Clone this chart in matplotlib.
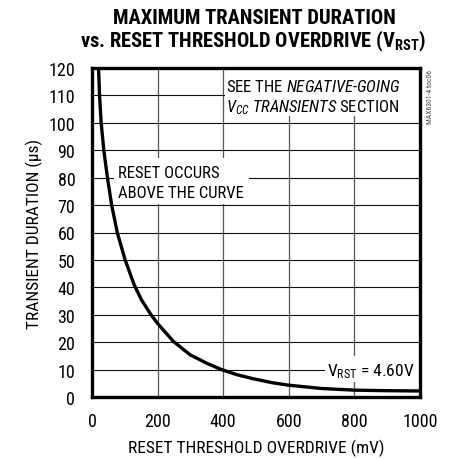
import matplotlib
matplotlib.use('Agg')
import matplotlib.pyplot as plt

# curve
overdrive_mv = [20, 23, 28, 36, 47, 60, 77, 101, 129, 151, 180, 200, 248, 299,
                350, 395, 440, 490, 550, 600, 700, 800, 900, 1000]
duration_us = [120, 110, 100, 90, 80, 70, 60, 50, 40.8, 35.4, 30, 26.8, 20.3, 15.4,
               12.3, 10, 8.2, 6.7, 5.2, 4.3, 3.1, 2.5, 2.3, 2.2]

x_ticks = [0, 200, 400, 600, 800, 1000]
y_ticks = list(range(0, 121, 10))

narrow = ['Roboto Condensed', 'Roboto', 'DejaVu Sans']
plt.rcParams['font.family'] = narrow
plt.rcParams['mathtext.fontset'] = 'custom'
plt.rcParams['mathtext.rm'] = 'Roboto Condensed'
plt.rcParams['mathtext.it'] = 'Roboto Condensed:italic'
plt.rcParams['mathtext.bf'] = 'Roboto Condensed:bold'

fig = plt.figure(figsize=(4.5, 4.6), dpi=100)
ax = fig.add_axes([92 / 450, 62 / 460, 328 / 450, 329 / 460])

ax.set_xlim(0, 1000)
ax.set_ylim(0, 120)
ax.set_xticks(x_ticks)
ax.set_yticks(y_ticks)
ax.tick_params(length=0, labelsize=13)
ax.tick_params(axis='y', pad=12)
ax.tick_params(axis='x', pad=11)

# grid: vertical grey, horizontal black
for xv in x_ticks[1:-1]:
    ax.axvline(xv, color='#555555', lw=0.9, zorder=1)
for yv in y_ticks[1:-1]:
    ax.axhline(yv, color='#111111', lw=0.8, zorder=1)

ax.plot(overdrive_mv, duration_us, color='black', lw=2.4, zorder=3,
        solid_capstyle='butt', solid_joinstyle='round')

for s in ax.spines.values():
    s.set_linewidth(2.4)
    s.set_zorder(5)

ax.set_xlabel('RESET THRESHOLD OVERDRIVE (mV)', fontsize=12.5, labelpad=6)
ax.set_ylabel('TRANSIENT DURATION (\u00b5s)', fontsize=12.5, labelpad=4)

fig.text(0.566, 0.96, 'MAXIMUM TRANSIENT DURATION', ha='center', va='center',
         fontsize=14.8, fontweight='black')
fig.text(0.563, 0.909, r'vs. RESET THRESHOLD OVERDRIVE (V$_{\mathbf{RST}}$)',
         ha='center', va='center', fontsize=14.8, fontweight='black')

# top-right note
ax.add_patch(plt.Rectangle((405, 102.5), 595, 17.5, facecolor='white',
                           edgecolor='none', zorder=2))
ax.text(408, 113.5, r'SEE THE $\mathit{NEGATIVE}$-$\mathit{GOING}$', fontsize=12,
        ha='left', va='center', zorder=4)
ax.text(408, 106, r'$\mathit{V_{CC}}$ $\mathit{TRANSIENTS}$ SECTION', fontsize=12,
        ha='left', va='center', zorder=4)

# region note
ax.add_patch(plt.Rectangle((68, 70.5), 410, 16.5, facecolor='white',
                           edgecolor='none', zorder=2))
ax.text(80, 82, 'RESET OCCURS', fontsize=12, ha='left', va='center', zorder=4)
ax.text(80, 74.5, 'ABOVE THE CURVE', fontsize=12, ha='left', va='center', zorder=4)

# V_RST label
ax.add_patch(plt.Rectangle((710, 5.5), 290, 9.5, facecolor='white',
                           edgecolor='none', zorder=2))
ax.text(984, 9.7, r'V$_{\mathrm{RST}}$ = 4.60V', fontsize=12.5, ha='right',
        va='center', zorder=4)

fig.text(0.955, 0.79, 'MAX6301-4 toc06', rotation=90, fontsize=5.5,
         color='#444444', ha='center', va='center')

fig.savefig('out.png', dpi=100)
